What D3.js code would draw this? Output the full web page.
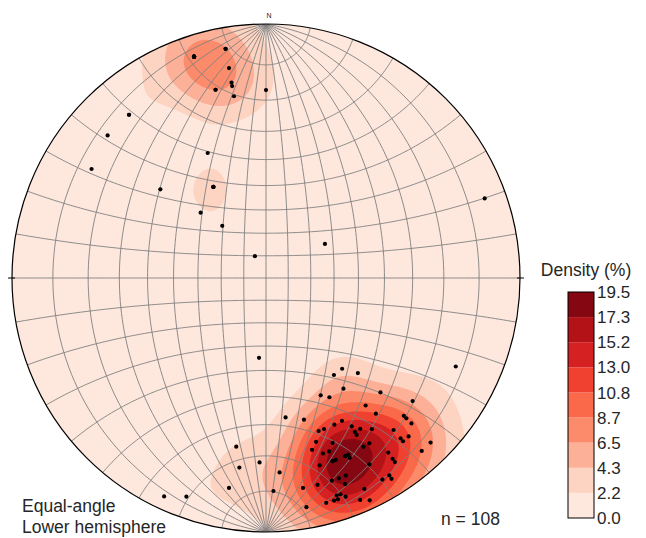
<!DOCTYPE html>
<html>
<head>
<meta charset="utf-8">
<script src="https://cdn.jsdelivr.net/npm/d3@7"></script>
<style>
  body { margin: 0; background: #fff; }
  svg text { font-family: "Liberation Sans", Arial, sans-serif; fill: #262626; }
</style>
</head>
<body>
<svg id="graphic" width="646" height="538"></svg>
<script>
//pole data, lower hemisphere (trend / plunge in degrees)
//south-east cluster
var trend = [140, 145, 136, 145, 155, 152, 135, 130, 142, 141, 135, 135, 135, 172, 165, 161, 159, 155, 152, 150,
    150, 150, 148, 145, 140, 140, 140, 138, 135, 163, 158, 150, 148, 165, 160, 162, 156, 155, 155, 145,
    145, 145, 138, 160, 159, 164, 151, 158, 160, 162, 159, 166, 170, 155, 148, 148, 150, 162, 161, 160,
    165, 163, 162, 157, 170, 155, 176,
    //north-west group and scattered
    342, 350, 350, 350, 350, 345, 350, 0, 320, 312, 302, 335, 310, 330, 315, 320, 60, 333, 70,
    185, 115,
    190, 182, 188, 190, 178, 205, 200,
    //repeated measurements (overlapping dots)
    342, 342, 342, 342, 342, 342, 350, 345, 320, 330, 330, 156, 160];
var plunge = [40, 40, 35, 34, 36, 34, 25, 16, 25, 21, 15, 14, 12, 32, 30, 25, 25, 25, 25, 22,
    20, 19, 20, 18, 14, 11, 10, 10, 5, 22, 20, 15, 15, 20, 18, 18, 15, 15, 14, 10,
    8, 7, 5, 15, 15, 15, 10, 10, 10, 10, 8, 10, 10, 5, 5, 4, 5, 6, 6, 5,
    5, 5, 5, 3, 5, 2, 15,
    5, 5, 10, 14, 15, 15, 18, 17, 10, 10, 12, 33, 33, 45, 50, 60, 60, 79, 5,
    55, 11,
    22, 18, 16, 10, 10, 3, 5,
    5, 5, 5, 5, 5, 5, 5, 15, 10, 45, 45, 15, 15];

//colour bar
var densityMax = 19.5;
var levelLabels = ["0.0", "2.2", "4.3", "6.5", "8.7", "10.8", "13.0", "15.2", "17.3", "19.5"];
var bandColors = ["#fee8de", "#fdd3c1", "#fcb097", "#fc8b6b", "#fa6949", "#f0402f", "#d52121", "#b31217", "#840711"];

var svg = d3.select("#graphic");
var cx = 266, cy = 278, R = 254;
var rad = Math.PI / 180;

var projection = d3.geoStereographic()
    .scale(R)
    .translate([cx, cy])
    .precision(0.1);
var path = d3.geoPath(projection);

//trend/plunge -> lon/lat of the net
function toLonLat(t, p) {
    var down = Math.sin(p * rad),
        east = Math.cos(p * rad) * Math.sin(t * rad),
        north = Math.cos(p * rad) * Math.cos(t * rad);
    return [Math.atan2(east, down) / rad, Math.asin(north) / rad];
}
function toVec(ll) {
    var lo = ll[0] * rad, la = ll[1] * rad;
    return [Math.cos(la) * Math.cos(lo), Math.cos(la) * Math.sin(lo), Math.sin(la)];
}

var poles = trend.map(function(t, i) { return toLonLat(t, plunge[i]); });
var vecs = poles.map(toVec);

//exponential kernel density on a pixel grid
var step = 3, pad = 9;
var x0 = cx - R - pad, y0 = cy - R - pad;
var nx = Math.ceil((2 * R + 2 * pad) / step), ny = nx;
var n = vecs.length, sigma = 2.15;
var f = 2 * (1 + n / (sigma * sigma));
var values = new Float64Array(nx * ny);
var vmax = 0;
for (var j = 0; j < ny; j++) {
    for (var i = 0; i < nx; i++) {
        var g = toVec(projection.invert([x0 + (i + 0.5) * step, y0 + (j + 0.5) * step]));
        var s = 0;
        for (var k = 0; k < n; k++) {
            var c = g[0] * vecs[k][0] + g[1] * vecs[k][1] + g[2] * vecs[k][2];
            s += Math.exp(f * (c - 1));
        }
        values[j * nx + i] = s;
        if (s > vmax) vmax = s;
    }
}
for (var q = 0; q < values.length; q++) values[q] = values[q] * densityMax / vmax;

var thresholds = d3.range(1, 9).map(function(i) { return densityMax * i / 9; });
var contours = d3.contours().size([nx, ny]).thresholds(thresholds)(values);
var gridPath = d3.geoPath(d3.geoIdentity().scale(step).translate([x0, y0]));

svg.append("defs").append("clipPath").attr("id", "net-clip")
    .append("circle").attr("cx", cx).attr("cy", cy).attr("r", R);

var net = svg.append("g").attr("clip-path", "url(#net-clip)");

net.append("circle")
    .attr("cx", cx).attr("cy", cy).attr("r", R)
    .style("fill", bandColors[0]);

net.selectAll("path.band")
    .data(contours)
    .enter().append("path")
        .attr("class", "band")
        .attr("d", gridPath)
        .style("fill", function(d, i) { return bandColors[i + 1]; })
        .style("stroke", "none");

//wulff net grid, 10 degree spacing
var lines = [];
d3.range(-80, 81, 10).forEach(function(lon) {
    lines.push(d3.range(-90, 90.01, 2).map(function(lat) { return [lon, lat]; }));
});
d3.range(-80, 81, 10).forEach(function(lat) {
    lines.push(d3.range(-90, 90.01, 1).map(function(lon) { return [lon, lat]; }));
});
net.append("path")
    .datum({type: "MultiLineString", coordinates: lines})
    .attr("d", path)
    .style("fill", "none")
    .style("stroke", "#808080")
    .style("stroke-width", 0.9);

svg.append("circle")
    .attr("cx", cx).attr("cy", cy).attr("r", R)
    .style("fill", "none")
    .style("stroke", "#000")
    .style("stroke-width", 1.2);

//poles
svg.selectAll("circle.pole")
    .data(poles)
    .enter().append("circle")
        .attr("class", "pole")
        .attr("cx", function(d) { return projection(d)[0]; })
        .attr("cy", function(d) { return projection(d)[1]; })
        .attr("r", 2.1)
        .style("fill", "#000");

//ticks at W and E, N label
[[-1, 0], [1, 0]].forEach(function(d) {
    svg.append("line")
        .attr("x1", cx + d[0] * (R - 3)).attr("x2", cx + d[0] * (R + 4))
        .attr("y1", cy).attr("y2", cy)
        .style("stroke", "#000").style("stroke-width", 1);
});
svg.append("text")
    .attr("x", 269).attr("y", 17.5)
    .attr("text-anchor", "middle")
    .style("font-size", "7px")
    .text("N");

svg.append("text").attr("x", 22).attr("y", 511.5).style("font-size", "17.5px").text("Equal-angle");
svg.append("text").attr("x", 22).attr("y", 533).style("font-size", "17.5px").text("Lower hemisphere");
svg.append("text").attr("x", 441).attr("y", 525).style("font-size", "17.5px").text("n = " + n);

//colour bar
var cbX = 568, cbW = 26;
var cbScale = d3.scaleLinear().domain([0, densityMax]).range([518, 292]);
var levels = d3.range(10).map(function(i) { return densityMax * i / 9; });

svg.selectAll("rect.cb")
    .data(bandColors)
    .enter().append("rect")
        .attr("class", "cb")
        .attr("x", cbX)
        .attr("width", cbW)
        .attr("y", function(d, i) { return cbScale(levels[i + 1]); })
        .attr("height", function(d, i) { return cbScale(levels[i]) - cbScale(levels[i + 1]); })
        .style("fill", function(d) { return d; });

svg.append("rect")
    .attr("x", cbX).attr("y", cbScale(densityMax))
    .attr("width", cbW).attr("height", cbScale(0) - cbScale(densityMax))
    .style("fill", "none").style("stroke", "#000").style("stroke-width", 1);

svg.selectAll("text.cbl")
    .data(levelLabels)
    .enter().append("text")
        .attr("class", "cbl")
        .attr("x", cbX + cbW + 3)
        .attr("y", function(d, i) { return cbScale(levels[i]); })
        .attr("dy", "0.36em")
        .style("font-size", "17px")
        .text(function(d) { return d; });

svg.append("text")
    .attr("x", 586).attr("y", 276)
    .attr("text-anchor", "middle")
    .style("font-size", "17.5px")
    .text("Density (%)");
</script>
</body>
</html>
